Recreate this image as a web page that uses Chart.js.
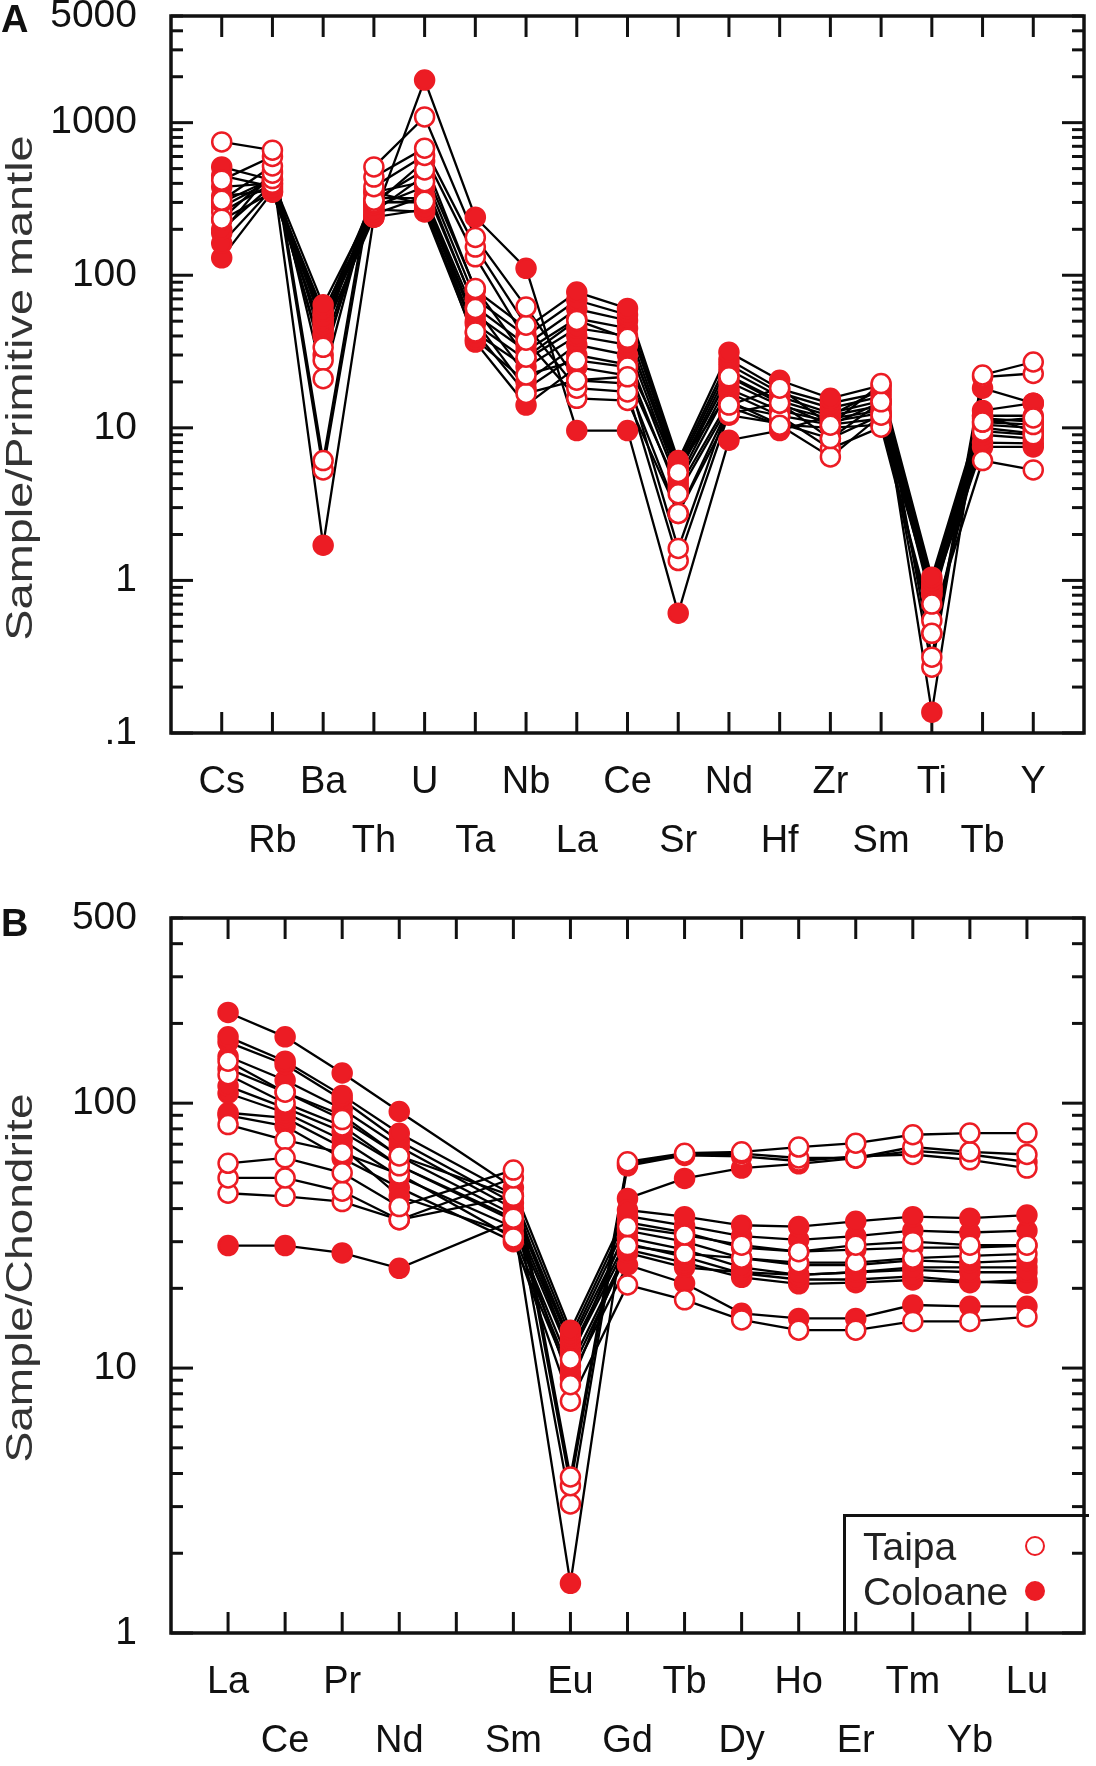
<!DOCTYPE html>
<html>
<head>
<meta charset="utf-8">
<script src="https://cdn.jsdelivr.net/npm/chart.js@4.4.1/dist/chart.umd.min.js"></script>
<style>
html,body{margin:0;padding:0;background:#fff;}
body{width:1096px;height:1766px;position:relative;overflow:hidden;font-family:"Liberation Sans",Arial,Helvetica,sans-serif;}
canvas{position:absolute;left:0;}
#cA{top:0;}
#cB{top:880px;}
.letter{position:absolute;left:1px;font-weight:bold;font-size:38px;line-height:38px;color:#111;}
.ytitle{position:absolute;font-size:36px;line-height:36px;color:#333;white-space:nowrap;}
.legend{position:absolute;left:843px;top:1514px;width:246px;height:119px;box-sizing:border-box;border-left:3.5px solid #111;border-top:3.5px solid #111;}
.legend .txt{position:absolute;left:17px;font-size:39px;line-height:39px;color:#222;transform:translateY(-50%);}
.legend .mk{position:absolute;left:179px;width:20px;height:20px;border-radius:50%;box-sizing:border-box;transform:translateY(-50%);}
.mk.open{border:2.5px solid #EC1C24;background:#fff;}
.mk.fill{border:2.5px solid #EC1C24;background:#EC1C24;}
</style>
</head>
<body>
<canvas id="cA" width="1096" height="880"></canvas>
<canvas id="cB" width="1096" height="886"></canvas>
<div class="letter" style="top:0px;">A</div>
<div class="letter" style="top:904px;">B</div>
<div class="ytitle" id="tA">Sample/Primitive mantle</div>
<div class="ytitle" id="tB">Sample/Chondrite</div>
<div class="legend">
  <div class="txt" style="top:29px;">Taipa</div>
  <div class="mk open" style="top:29px;"></div>
  <div class="txt" style="top:74px;">Coloane</div>
  <div class="mk fill" style="top:74px;"></div>
</div>
<script>
// ---------- Panel A: primitive-mantle normalised ----------
const catsA = ['Cs','Rb','Ba','Th','U','Ta','Nb','La','Ce','Sr','Nd','Hf','Zr','Sm','Ti','Tb','Y'];
const yTicksA = [0.1, 1, 10, 100, 1000, 5000];

const taipaA1 = [748, 660, 6.1, 513, 1090, 177, 62, 20.5, 21.6, 1.62, 14.1, 18.2, 10.4, 19.5, 0.314, 22.2, 27];
const taipaA2 = [420, 600, 5.3, 440, 680, 153, 47, 18.2, 17.2, 1.35, 12.4, 14.5, 8.5, 14.8, 0.27, 21.5, 22.7];
const taipaA3 = [310, 520, 21, 380, 610, 132, 37.5, 15.6, 15.1, 2.75, 13.7, 10.4, 6.45, 12.1, 0.45, 10.9, 11.6];
const taipaA4 = [233, 466, 33.7, 310, 490, 82, 29, 50.6, 38.6, 5.1, 21.6, 14.5, 10.4, 14.8, 0.70, 10.9, 10.5];
const taipaA5 = [300, 430, 27.7, 350, 410, 60.5, 22.2, 27.7, 25, 3.7, 14.1, 12.0, 7.3, 10.1, 0.547, 6.1, 5.3];
const taipaA6 = [260, 400, 30, 300, 305, 42.5, 16.8, 20.5, 19.5, 2.75, 12.1, 10.7, 8.5, 12.1, 0.45, 9.5, 9.0];

const coloaneA1 = [513, 420, 64, 290, 560, 80, 45, 77.6, 60.6, 6.1, 31.3, 20.5, 15.6, 19, 1.05, 13, 14.5];
const coloaneA2 = [450, 380, 58, 260, 450, 70, 40, 68.6, 55, 5.8, 28, 18, 14.5, 17, 1.0, 12, 12];
const coloaneA3 = [380, 400, 52, 280, 380, 62, 35, 60, 50.6, 5.5, 26, 17, 13.5, 16, 0.95, 11.5, 11];
const coloaneA4 = [330, 360, 48, 250, 330, 55, 32, 52, 45, 5.2, 24, 16, 12.5, 15, 0.9, 10.5, 10];
const coloaneA5 = [280, 420, 45, 300, 300, 48, 28, 45, 40, 5.0, 22, 15, 12, 14, 0.88, 10, 9.2];
const coloaneA6 = [230, 350, 42, 240, 270, 42, 25, 40, 35, 4.6, 20, 14, 11.5, 13, 0.85, 9, 8.5];
const coloaneA7 = [200, 390, 50, 270, 260, 38, 20, 35, 30, 4.3, 18, 13, 11, 12.5, 0.82, 8, 7.9];
const coloaneA8 = [162, 370, 55, 320, 320, 50, 18, 30, 26, 5.5, 17, 12, 10.5, 11.5, 0.8, 7.5, 7.5];
const coloaneA9 = [130, 352, 40, 350, 290, 36.5, 14.1, 25, 22, 4.0, 15, 10.5, 10, 10.5, 0.9, 12, 9.5];
const coloaneA10 = [190, 480, 1.7, 240, 1900, 240, 111, 9.6, 9.6, 0.61, 8.3, 9.6, 12, 18, 0.137, 18.2, 14.5];

// ---------- Panel B: chondrite normalised REE ----------
const catsB = ['La','Ce','Pr','Nd','','Sm','Eu','Gd','Tb','Dy','Ho','Er','Tm','Yb','Lu'];
const yTicksB = [1, 10, 100, 500];

const taipaB1 = [59.3, 62.2, 54.6, 40.7, null, 55.9, 3.88, 60.1, 64.7, 65.5, 68.3, 70.6, 76.0, 77.1, 77.1];
const taipaB2 = [52.2, 52.2, 46.5, 36.3, null, 52.2, 3.6, 59, 64, 64.5, 62.1, 62.1, 68.3, 65.5, 64];
const taipaB3 = [45.7, 44.5, 42.5, 36.3, null, 44.5, 3.07, 58, 63.5, 63, 60.5, 63, 64, 61.1, 56.9];
const taipaB4 = [144, 110, 86.7, 63.2, null, 44.5, 10.8, 34.2, 31.8, 29.1, 27.5, 29.1, 30, 29.1, 29.1];
const taipaB5 = [128, 100, 82, 58, null, 36.8, 8.65, 29, 27, 26, 25, 25, 26, 26.5, 27];
const taipaB6 = [83, 72.6, 65, 54, null, 31, 7.5, 20.6, 18.1, 15.2, 13.9, 13.9, 15, 15, 15.6];

const coloaneB1 = [220, 178, 130, 93, null, 48, 13.9, 39.5, 37.3, 34.6, 34.2, 35.8, 37.3, 36.8, 37.8];
const coloaneB2 = [178, 144, 107, 77, null, 45, 13.2, 37.5, 34.5, 31.5, 30.5, 31.5, 33, 32.5, 33];
const coloaneB3 = [170, 140, 103, 72, null, 42, 12.6, 35.5, 32.5, 28.5, 27.5, 28, 28.5, 28.5, 29];
const coloaneB4 = [150, 122, 95, 68.5, null, 40, 12.2, 33, 30, 26, 24.5, 24.5, 25.5, 25, 25.5];
const coloaneB5 = [135, 110, 90, 63, null, 38, 11.6, 31, 28, 24, 22.5, 23, 23.5, 23, 23];
const coloaneB6 = [116, 96, 78, 58, null, 36, 11.2, 29.5, 26.3, 22.8, 21.6, 21.6, 22.2, 21.2, 20.9];
const coloaneB7 = [109, 92, 72.6, 52.8, null, 34, 10.2, 28, 25, 22, 20.8, 21, 21.5, 21, 21.5];
const coloaneB8 = [92, 88, 68, 44.5, null, 32, 9.6, 27.2, 24, 23, 22.5, 23, 24, 24, 24];
const coloaneB9 = [90, 82, 62, 48, null, 30, 9.2, 24.5, 20.9, 16.1, 15.4, 15.4, 17.3, 17.1, 17.1];
const coloaneB10 = [29, 29, 27.2, 23.8, null, 36, 1.54, 43.7, 52, 56.9, 59, 62, 66, 64, 60];

const taipaA = [taipaA1, taipaA2, taipaA3, taipaA4, taipaA5, taipaA6];
const coloaneA = [coloaneA1, coloaneA2, coloaneA3, coloaneA4, coloaneA5, coloaneA6, coloaneA7, coloaneA8, coloaneA9, coloaneA10];
const taipaB = [taipaB1, taipaB2, taipaB3, taipaB4, taipaB5, taipaB6];
const coloaneB = [coloaneB1, coloaneB2, coloaneB3, coloaneB4, coloaneB5, coloaneB6, coloaneB7, coloaneB8, coloaneB9, coloaneB10];

const RED = '#EC1C24';
const FONT = '"Liberation Sans", Arial, Helvetica, sans-serif';

function toPts(vals){ return vals.map((v, i) => ({x: i, y: v})); }

function buildDatasets(taipa, coloane){
  const ds = [];
  taipa.concat(coloane).forEach(vals => ds.push({
    data: toPts(vals), borderColor: '#000', borderWidth: 2.3, pointRadius: 0,
    pointHoverRadius: 0, spanGaps: true, tension: 0, fill: false, order: 3
  }));
  coloane.forEach(vals => ds.push({
    data: toPts(vals), showLine: false, pointRadius: 9.5, pointHoverRadius: 9.5,
    pointBackgroundColor: RED, pointBorderColor: RED, pointBorderWidth: 2.5, order: 2
  }));
  taipa.forEach(vals => ds.push({
    data: toPts(vals), showLine: false, pointRadius: 9.5, pointHoverRadius: 9.5,
    pointBackgroundColor: '#fff', pointBorderColor: RED, pointBorderWidth: 2.5, order: 1
  }));
  return ds;
}

const frameTicks = {
  id: 'frameTicks',
  beforeDatasetsDraw(chart){
    const {ctx, chartArea: {left, right, top, bottom}, scales: {x, y}} = chart;
    ctx.save();
    ctx.strokeStyle = '#111';
    ctx.lineCap = 'butt';
    ctx.lineWidth = 3;
    const seg = (x1, y1, x2, y2) => { ctx.beginPath(); ctx.moveTo(x1, y1); ctx.lineTo(x2, y2); ctx.stroke(); };
    x.ticks.forEach(t => {
      const px = x.getPixelForValue(t.value);
      seg(px, bottom, px, bottom - 21);
      seg(px, top, px, top + 21);
    });
    const lo = Math.floor(Math.log10(y.min)), hi = Math.ceil(Math.log10(y.max));
    for (let d = lo; d <= hi; d++) {
      for (let m = 1; m <= 9; m++) {
        const v = m * Math.pow(10, d);
        if (v < y.min * 0.999 || v > y.max * 1.001) continue;
        const py = y.getPixelForValue(v);
        const len = (m === 1) ? 22 : 12;
        seg(left, py, left + len, py);
        seg(right, py, right - len, py);
      }
    }
    ctx.lineWidth = 3.5;
    ctx.strokeRect(left, top, right - left, bottom - top);
    ctx.restore();
  }
};

function makeChart(id, cats, yTicks, taipa, coloane, yMin, yMax, padTop, xAxisH){
  return new Chart(document.getElementById(id), {
    type: 'line',
    data: {datasets: buildDatasets(taipa, coloane)},
    options: {
      responsive: false,
      animation: false,
      events: [],
      layout: {padding: {top: padTop, right: 7, left: 0, bottom: 0}},
      plugins: {legend: {display: false}, tooltip: {enabled: false}, title: {display: false}},
      scales: {
        x: {
          type: 'linear', min: -1, max: cats.length,
          afterBuildTicks: s => { s.ticks = cats.map((c, i) => ({value: i})); },
          afterFit: s => { s.height = xAxisH; s.paddingLeft = 0; s.paddingRight = 0; },
          grid: {display: false, drawTicks: false},
          border: {display: false},
          ticks: {
            autoSkip: false, maxRotation: 0, minRotation: 0, padding: 20, color: '#111',
            font: {family: FONT, size: 38, lineHeight: 1.55},
            callback: (v) => { const i = Math.round(v); const c = cats[i] || ''; return (i % 2 === 0) ? [c, ''] : ['', c]; }
          }
        },
        y: {
          type: 'logarithmic', min: yMin, max: yMax,
          afterBuildTicks: s => { s.ticks = yTicks.map(v => ({value: v})); },
          afterFit: s => { s.width = 171; s.paddingTop = 0; s.paddingBottom = 0; },
          grid: {display: false, drawTicks: false},
          border: {display: false},
          ticks: {
            padding: 34, color: '#111',
            font: {family: FONT, size: 39, lineHeight: 0.8},
            callback: v => (Math.abs(v - 0.1) < 1e-9 ? '.1' : String(v))
          }
        }
      }
    },
    plugins: [frameTicks]
  });
}

makeChart('cA', catsA, yTicksA, taipaA, coloaneA, 0.1, 5000, 16, 147);
makeChart('cB', catsB, yTicksB, taipaB, coloaneB, 1, 500, 38, 133);

function placeTitle(id, cx, cy, len){
  const el = document.getElementById(id);
  const w = el.offsetWidth;
  const k = len / w;
  el.style.left = cx + 'px';
  el.style.top = cy + 'px';
  el.style.transform = 'translate(-50%,-50%) rotate(-90deg) scaleX(' + k.toFixed(3) + ')';
}
placeTitle('tA', 20, 388, 505);
placeTitle('tB', 20, 1278, 369);
</script>
</body>
</html>
